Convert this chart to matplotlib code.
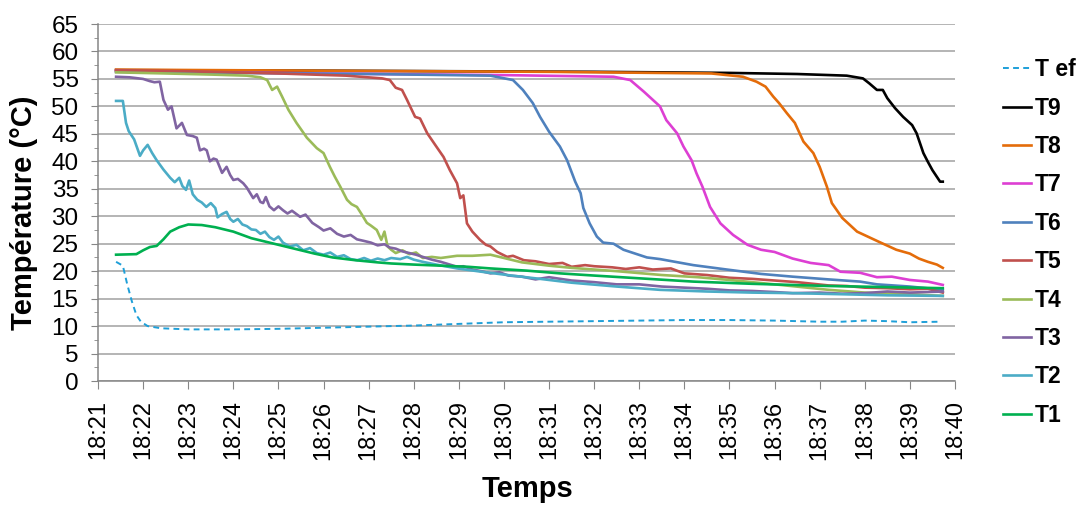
import matplotlib
matplotlib.use("Agg")
import matplotlib.pyplot as plt
from matplotlib.ticker import MultipleLocator

plt.rcParams['font.family'] = ['Liberation Sans', 'DejaVu Sans']

# time in minutes after 18:21
x_ticklabels = ["18:%02d" % m for m in range(21, 41)]
y_ticks = list(range(0, 70, 5))

t_ef = [0.4, 0.55, 0.65, 0.75, 0.85, 0.95, 1.1, 1.4, 2.0, 3.0, 4.0, 5.0, 6.0, 7.0, 8.0, 9.0,
        10.0, 11.0, 12.0, 13.0, 14.0, 15.0, 16.0, 16.5, 17.0, 17.5, 18.0, 18.7]
v_ef = [21.7, 21.0, 17.5, 14.5, 12.0, 10.8, 10.0, 9.6, 9.4, 9.4, 9.5, 9.7, 9.9, 10.1, 10.4, 10.7,
        10.8, 10.9, 11.0, 11.1, 11.1, 11.0, 10.8, 10.8, 11.0, 10.9, 10.7, 10.8]

t_9 = [0.4, 5.0, 11.0, 14.0, 15.5, 16.6, 16.96, 17.1, 17.27, 17.4, 17.5, 17.67, 17.85, 18.05,
       18.15, 18.3, 18.4, 18.5, 18.67, 18.73]
v_9 = [56.6, 56.5, 56.3, 56.1, 55.9, 55.6, 55.1, 54.2, 53.0, 53.0, 51.5, 49.7, 48.1, 46.6,
       45.1, 41.5, 39.9, 38.4, 36.3, 36.3]

t_8 = [0.4, 5.0, 10.0, 13.6, 14.3, 14.6, 14.8, 14.97, 15.1, 15.27, 15.45, 15.64, 15.86, 16.0,
       16.16, 16.27, 16.5, 16.83, 17.3, 17.7, 18.0, 18.2, 18.4, 18.6, 18.73]
v_8 = [56.7, 56.5, 56.3, 56.0, 55.4, 54.5, 53.6, 51.8, 50.6, 48.8, 47.0, 43.6, 41.5, 39.0,
       35.4, 32.4, 29.7, 27.2, 25.4, 23.9, 23.2, 22.3, 21.7, 21.2, 20.6]

t_7 = [0.4, 5.0, 9.0, 11.43, 11.8, 12.1, 12.3, 12.46, 12.6, 12.84, 12.98, 13.16, 13.27, 13.4,
       13.57, 13.8, 14.08, 14.4, 14.7, 15.0, 15.4, 15.8, 16.2, 16.46, 16.9, 17.27, 17.6, 18.0,
       18.4, 18.73]
v_7 = [56.4, 56.0, 55.7, 55.4, 54.8, 52.7, 51.2, 50.0, 47.5, 45.1, 42.7, 40.2, 37.8, 35.4,
       31.7, 28.7, 26.6, 24.8, 23.9, 23.5, 22.3, 21.5, 21.1, 19.9, 19.7, 18.9, 19.0, 18.4,
       18.1, 17.5]

t_6 = [0.4, 3.0, 6.0, 8.7, 9.2, 9.42, 9.64, 9.8, 10.0, 10.24, 10.4, 10.58, 10.7, 10.76, 10.9,
       11.06, 11.2, 11.43, 11.65, 12.17, 12.46, 13.2, 13.94, 14.7, 15.4, 16.2, 16.9, 17.27,
       18.0, 18.73]
v_6 = [56.3, 56.1, 55.9, 55.6, 54.8, 53.0, 50.6, 48.1, 45.4, 42.7, 40.2, 36.3, 34.2, 31.5, 28.7,
       26.3, 25.2, 25.0, 23.9, 22.5, 22.2, 21.1, 20.3, 19.5, 19.0, 18.5, 18.1, 17.6,
       17.2, 16.6]

t_5 = [0.4, 2.0, 4.0, 5.5, 6.3, 6.47, 6.6, 6.74, 6.85, 7.03, 7.14, 7.3, 7.5, 7.66, 7.8, 7.96,
       8.03, 8.1, 8.18, 8.3, 8.47, 8.6, 8.7, 8.85, 9.07, 9.2, 9.44, 9.7, 10.0, 10.3, 10.5, 10.8,
       11.0, 11.4, 11.7, 12.0, 12.3, 12.7, 13.0, 13.5, 14.0, 14.5, 15.0, 15.5, 16.2, 16.6, 17.0,
       17.5, 18.0, 18.4, 18.73]
v_5 = [56.6, 56.4, 56.0, 55.6, 55.1, 54.8, 53.4, 53.0, 51.2, 48.1, 47.8, 45.1, 42.7, 40.8, 38.4,
       36.0, 33.3, 33.8, 28.7, 27.2, 25.7, 24.8, 24.5, 23.5, 22.6, 22.8, 22.0, 21.8, 21.3, 21.5,
       20.8, 21.1, 20.9, 20.7, 20.4, 20.7, 20.3, 20.5, 19.6, 19.3, 18.8, 18.6, 18.3, 18.0, 17.4,
       17.3, 17.0, 16.9, 16.7, 16.8, 16.1]

t_4 = [0.4, 1.5, 2.5, 3.3, 3.6, 3.75, 3.86, 3.97, 4.08, 4.22, 4.4, 4.63, 4.85, 5.0, 5.14, 5.25,
       5.37, 5.52, 5.62, 5.74, 5.85, 5.96, 6.05, 6.18, 6.28, 6.35, 6.42, 6.5, 6.6, 6.75, 6.9,
       7.05, 7.2, 7.4, 7.6, 7.96, 8.3, 8.7, 9.1, 9.4, 10.0, 10.5, 11.5, 12.5, 13.3, 14.0, 15.0,
       16.2, 17.0, 18.0, 18.73]
v_4 = [56.2, 56.0, 55.8, 55.6, 55.3, 54.8, 53.0, 53.6, 51.8, 49.4, 47.0, 44.3, 42.4, 41.5, 39.0,
       37.2, 35.4, 33.0, 32.2, 31.7, 30.3, 28.8, 28.3, 27.5, 25.7, 27.2, 24.5, 23.9, 23.3, 23.8,
       23.1, 23.4, 22.4, 22.6, 22.4, 22.8, 22.8, 23.0, 22.2, 21.6, 21.0, 20.6, 20.0, 19.3, 18.9,
       18.4, 17.6, 16.6, 16.1, 15.8, 15.5]

t_3 = [0.4, 0.7, 1.0, 1.15, 1.25, 1.37, 1.45, 1.55, 1.63, 1.74, 1.86, 1.97, 2.1, 2.19, 2.26, 2.35,
       2.41, 2.48, 2.56, 2.63, 2.75, 2.85, 2.93, 3.0, 3.1, 3.22, 3.3, 3.44, 3.52, 3.6, 3.66, 3.72,
       3.8, 3.9, 4.0, 4.1, 4.2, 4.3, 4.48, 4.6, 4.75, 4.9, 5.0, 5.15, 5.3, 5.45, 5.6, 5.74, 5.9,
       6.05, 6.2, 6.35, 6.47, 6.6, 6.75, 6.9, 7.05, 7.2, 7.4, 7.6, 7.8, 7.96, 8.1, 8.3, 8.5, 8.7,
       8.9, 9.1, 9.4, 9.7, 10.0, 10.5, 11.0, 11.5, 12.0, 12.5, 13.0, 13.5, 14.0, 14.5, 15.0, 15.4,
       16.0, 16.5, 17.0, 17.5, 18.0, 18.73]
v_3 = [55.4, 55.3, 55.0, 54.6, 54.4, 54.5, 51.2, 49.4, 50.0, 46.0, 47.0, 44.8, 44.6, 44.3, 42.0,
       42.3, 42.0, 40.0, 40.5, 40.3, 37.9, 39.0, 37.5, 36.6, 36.8, 36.0, 35.2, 33.3, 34.0, 32.6,
       32.4, 33.5, 31.8, 31.1, 31.8, 31.1, 30.5, 31.0, 29.9, 30.3, 28.8, 28.0, 27.4, 27.8, 26.8,
       26.3, 26.6, 25.8, 25.5, 25.2, 24.7, 24.9, 24.3, 24.1, 23.6, 23.3, 23.0, 22.6, 22.1, 21.7,
       21.2, 20.8, 20.9, 20.3, 20.0, 19.6, 19.8, 19.2, 19.0, 18.5, 18.9, 18.3, 18.0, 17.6, 17.6,
       17.2, 17.0, 16.8, 16.5, 16.4, 16.2, 16.0, 16.1, 15.9, 16.0, 16.3, 16.1, 16.3]

t_2 = [0.4, 0.55, 0.62, 0.68, 0.8, 0.93, 1.0, 1.1, 1.2, 1.3, 1.45, 1.6, 1.7, 1.8, 1.87, 1.95,
       2.02, 2.1, 2.2, 2.3, 2.4, 2.5, 2.6, 2.65, 2.75, 2.85, 2.93, 3.0, 3.1, 3.2, 3.3, 3.4, 3.5,
       3.6, 3.7, 3.8, 3.9, 4.0, 4.1, 4.25, 4.4, 4.55, 4.7, 4.85, 5.0, 5.15, 5.3, 5.45, 5.6, 5.75,
       5.9, 6.05, 6.2, 6.35, 6.5, 6.7, 6.85, 7.0, 7.2, 7.5, 7.96, 8.5, 9.07, 9.8, 10.5, 11.5,
       12.46, 13.5, 14.5, 15.4, 16.5, 17.5, 18.73]
v_2 = [51.0, 51.0, 47.0, 45.5, 44.0, 41.0, 42.0, 43.0, 41.5, 40.2, 38.5, 37.0, 36.2, 37.0, 35.5,
       34.8, 36.5, 34.0, 33.0, 32.5, 31.7, 32.4, 31.5, 29.8, 30.4, 30.8, 29.5, 29.0, 29.5, 28.5,
       28.2, 27.6, 27.5, 26.8, 27.2, 26.2, 25.7, 26.3, 25.2, 24.5, 24.8, 23.8, 24.2, 23.3, 23.0,
       23.4, 22.6, 22.9, 22.2, 22.0, 22.4, 21.9, 22.3, 22.0, 22.4, 22.2, 22.6, 22.1, 21.7, 21.2,
       20.5, 19.9, 19.3, 18.6, 17.9, 17.2, 16.6, 16.3, 16.1, 16.0, 15.8, 15.6, 15.5]

t_1 = [0.4, 0.85, 1.0, 1.15, 1.3, 1.45, 1.6, 1.8, 2.0, 2.3, 2.6, 3.0, 3.4, 3.8, 4.3, 4.8, 5.2,
       5.7, 6.2, 6.5, 7.0, 7.6, 8.2, 8.7, 9.5, 10.24, 11.0, 12.0, 13.2, 14.5, 16.2, 17.5, 18.73]
v_1 = [23.0, 23.1, 23.8, 24.4, 24.6, 25.8, 27.2, 28.0, 28.5, 28.4, 28.0, 27.2, 26.0, 25.2, 24.2,
       23.2, 22.5, 22.0, 21.6, 21.4, 21.2, 21.0, 20.8, 20.5, 20.1, 19.6, 19.2, 18.7, 18.1, 17.7,
       17.3, 17.1, 16.9]

series = [
    ("T ef", t_ef, v_ef, "#1E9FD8", "--"),
    ("T9", t_9, v_9, "#000000", "-"),
    ("T8", t_8, v_8, "#E46C0A", "-"),
    ("T7", t_7, v_7, "#DD3FD3", "-"),
    ("T6", t_6, v_6, "#4F81BD", "-"),
    ("T5", t_5, v_5, "#C0504D", "-"),
    ("T4", t_4, v_4, "#9BBB59", "-"),
    ("T3", t_3, v_3, "#8064A2", "-"),
    ("T2", t_2, v_2, "#4BACC6", "-"),
    ("T1", t_1, v_1, "#00B050", "-"),
]

fig = plt.figure(figsize=(10.81, 5.07), dpi=100)
ax = fig.add_axes([0.0907, 0.2485, 0.7927, 0.7041])

for name, tt, vv, col, ls in series:
    if ls == "--":
        ax.plot(tt, vv, color=col, lw=1.4, ls=(0, (3, 2.2)), label=name)
    else:
        ax.plot(tt, vv, color=col, lw=1.9, label=name)

ax.set_xlim(0, 19)
ax.set_ylim(0, 65)
ax.set_xticks(range(0, 20))
ax.set_xticklabels(x_ticklabels, rotation=90, fontsize=17)
ax.set_yticks(y_ticks)
ax.set_yticklabels([str(v) for v in y_ticks], fontsize=17.5)
ax.yaxis.set_minor_locator(MultipleLocator(2.5))
ax.tick_params(axis='y', which='major', length=5, color='#868686', pad=9)
ax.tick_params(axis='y', which='minor', length=3, color='#868686')
ax.tick_params(axis='x', which='major', length=6, color='#868686', pad=8)
ax.grid(axis='y', which='major', color='#A0A0A0', lw=1.1)
ax.set_axisbelow(True)
for s in ['top', 'right']:
    ax.spines[s].set_visible(False)
for s in ['left', 'bottom']:
    ax.spines[s].set_color('#868686')
    ax.spines[s].set_linewidth(1.1)

ax.set_ylabel("Température (°C)", fontsize=21, fontweight='bold')
ax.yaxis.set_label_coords(-0.070, 0.47)
ax.set_xlabel("Temps", fontsize=21, fontweight='bold')
ax.xaxis.set_label_coords(0.5006, -0.262)

leg = ax.legend(loc='center left', bbox_to_anchor=(1.045, 0.388), frameon=False,
                prop={'size': 16.5, 'weight': 'bold'}, handlelength=1.25,
                handletextpad=0.15, labelspacing=0.67, borderaxespad=0)

fig.savefig("out.png", dpi=100)
